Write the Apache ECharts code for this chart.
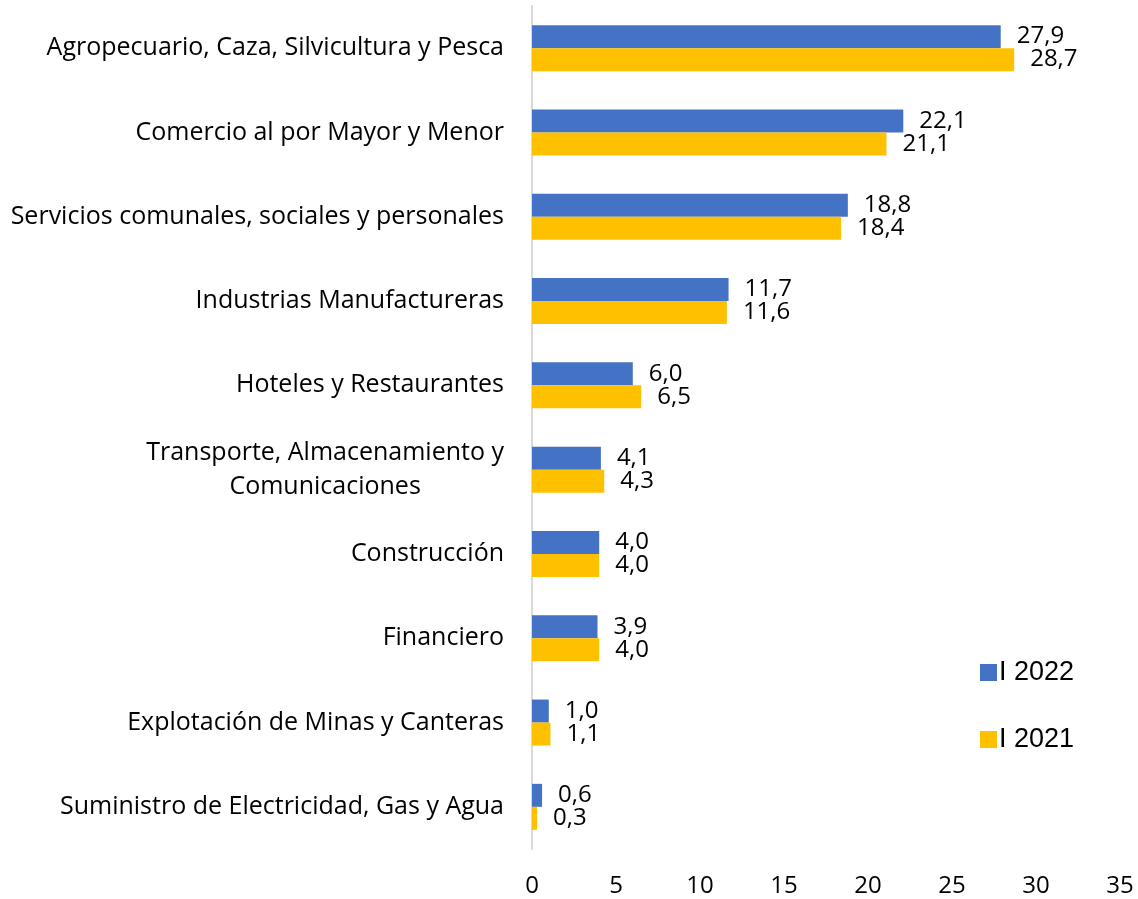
<!DOCTYPE html>
<html>
<head>
<meta charset="utf-8">
<script src="https://cdn.jsdelivr.net/npm/echarts@6/dist/echarts.min.js"></script>
<style>
  html, body { margin: 0; padding: 0; background: #fff; }
  #chart { width: 1138px; height: 899px; }
</style>
</head>
<body>
<div id="chart"></div>
<script>
const categories = [
  'Agropecuario, Caza, Silvicultura y Pesca',
  'Comercio al por Mayor y Menor',
  'Servicios comunales, sociales y personales',
  'Industrias Manufactureras',
  'Hoteles y Restaurantes',
  'Transporte, Almacenamiento y\nComunicaciones',
  'Construcción',
  'Financiero',
  'Explotación de Minas y Canteras',
  'Suministro de Electricidad, Gas y Agua'
]
const values2022 = [27.9, 22.1, 18.8, 11.7, 6.0, 4.1, 4.0, 3.9, 1.0, 0.6]
const values2021 = [28.7, 21.1, 18.4, 11.6, 6.5, 4.3, 4.0, 4.0, 1.1, 0.3]
const xTicks = [0, 5, 10, 15, 20, 25, 30, 35]

const labelFont = '"Open Sans", "Noto Sans", sans-serif'

const myChart = echarts.init(document.getElementById('chart'))

const valueLabel = {
  show: true,
  position: 'right',
  distance: 16,
  color: '#000',
  fontFamily: labelFont,
  fontSize: 24,
  formatter: p => p.value.toFixed(1).replace('.', ',')
}

const option = {
  animation: false,
  grid: { left: 532, right: 18, top: 6, bottom: 50, containLabel: false },
  legend: {
    orient: 'vertical',
    left: 975,
    top: 654,
    itemWidth: 17,
    itemHeight: 17,
    itemGap: 40,
    icon: 'rect',
    textStyle: { fontFamily: '"Liberation Sans", Arial, sans-serif', fontSize: 27, color: '#000', padding: [0, 0, 0, -3] },
    data: ['I 2022', 'I 2021']
  },
  xAxis: {
    type: 'value',
    min: xTicks[0],
    max: xTicks[xTicks.length - 1],
    interval: 5,
    axisLine: { show: false },
    axisTick: { show: false },
    splitLine: { show: false },
    axisLabel: {
      margin: 25,
      color: '#000',
      fontFamily: labelFont,
      fontSize: 24
    }
  },
  yAxis: {
    type: 'category',
    inverse: true,
    data: categories,
    axisLine: { show: true, lineStyle: { color: '#d9d9d9', width: 2 } },
    axisTick: { show: false },
    axisLabel: {
      margin: 28,
      color: '#000',
      fontFamily: labelFont,
      fontSize: 25,
      lineHeight: 34,
      formatter: v => '{c|' + v.split('\n').join('}\n{c|') + '}',
      rich: {
        c: { align: 'center', fontFamily: labelFont, fontSize: 25, lineHeight: 34, color: '#000' }
      }
    }
  },
  series: [
    {
      name: 'I 2022',
      type: 'bar',
      data: values2022,
      barWidth: 23,
      barGap: '0%',
      itemStyle: { color: '#4472C4' },
      label: valueLabel
    },
    {
      name: 'I 2021',
      type: 'bar',
      data: values2021,
      barWidth: 23,
      barGap: '0%',
      itemStyle: { color: '#FFC000' },
      label: valueLabel
    }
  ]
}

myChart.setOption(option)
</script>
</body>
</html>
